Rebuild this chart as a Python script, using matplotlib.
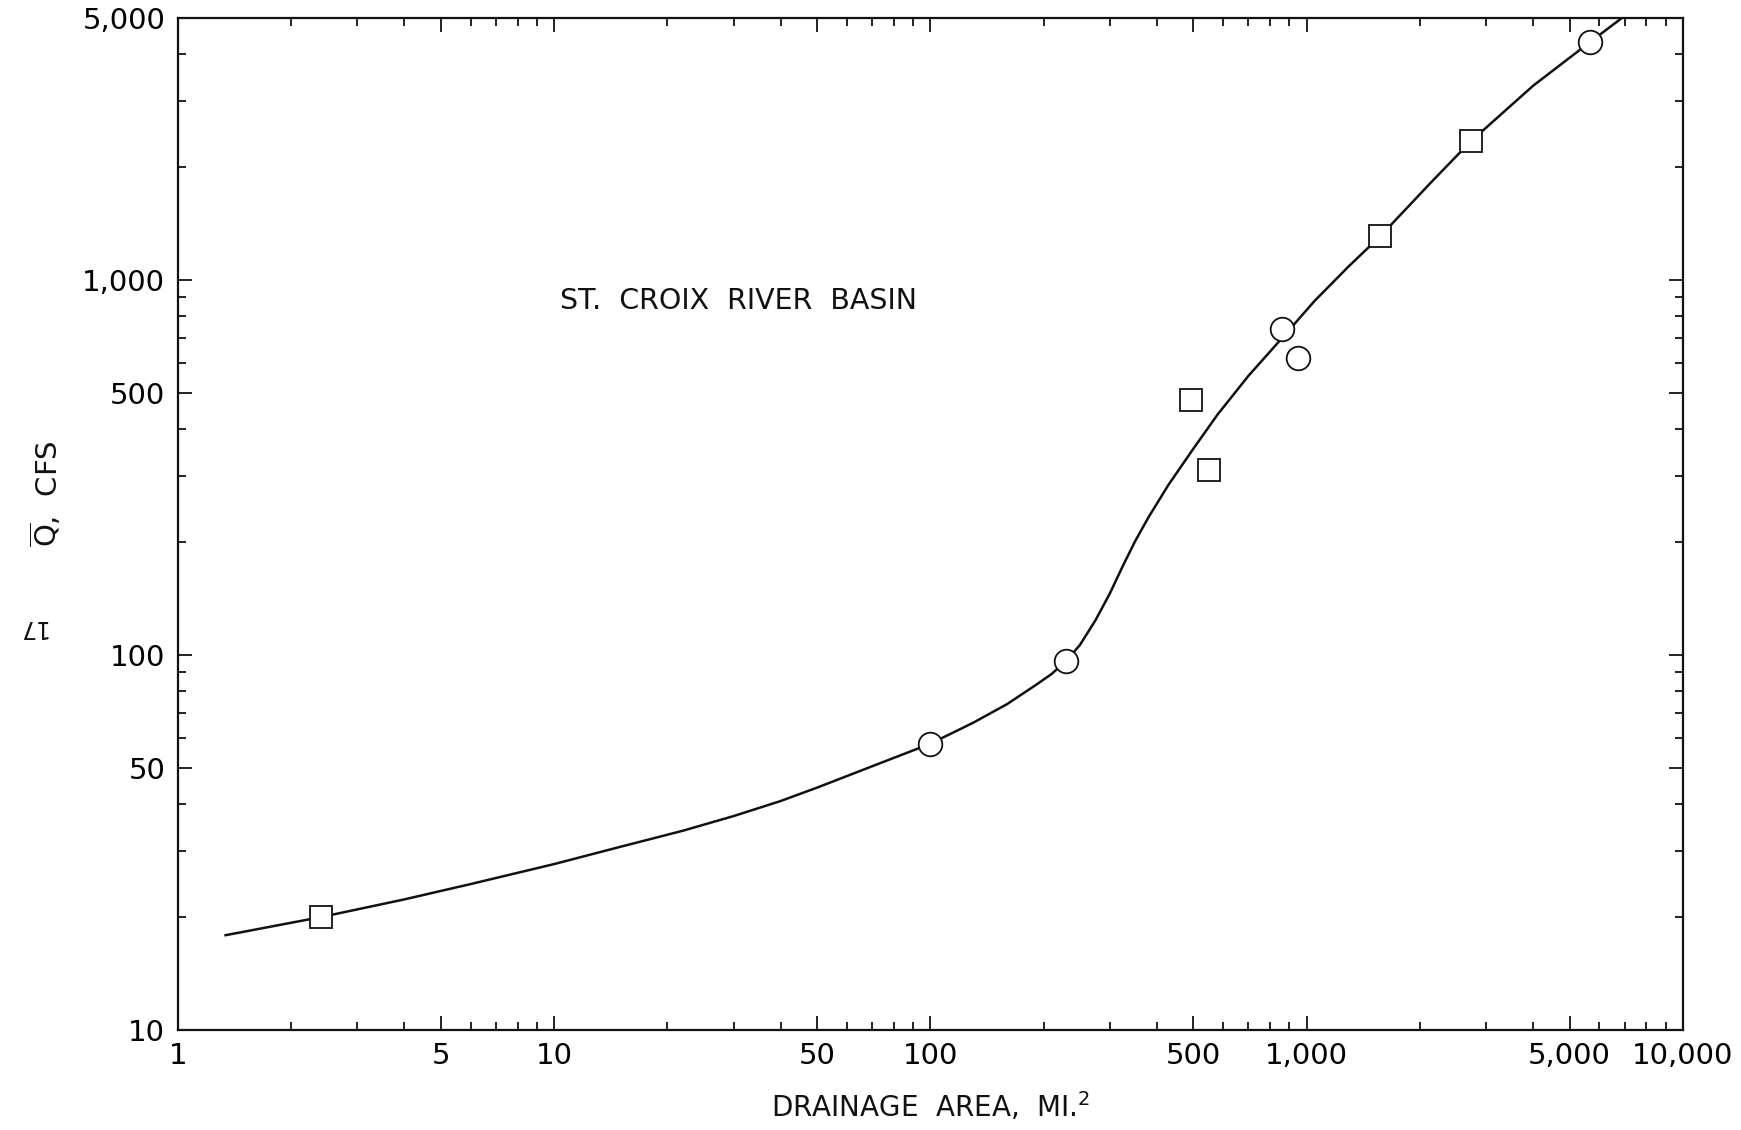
"""Mean annual flood vs drainage area, St. Croix River basin (log-log)."""

import matplotlib
matplotlib.use("Agg")
import matplotlib.pyplot as plt
from matplotlib.ticker import FixedLocator, LogLocator, NullFormatter

# Gaging stations, circles and squares
circle_area = [100, 230, 861, 948, 5654]
circle_q = [58, 96.6, 740, 619, 4305]
square_area = [2.4, 492, 552, 1567, 2733]
square_q = [20.0, 480, 312, 1310, 2344]

# Hand-fitted curve through the stations
curve_area = [1.34, 2.4, 4, 6, 10, 15, 22, 30, 40, 50, 70, 100, 130, 160,
              190, 210, 230, 250, 275, 300, 325, 350, 380, 430, 500, 580,
              700, 860, 1050, 1290, 1570, 2150, 2730, 4000, 5650, 7100]
curve_q = [17.9, 20.0, 22.3, 24.5, 27.7, 30.8, 34.0, 37.2, 40.8, 44.3, 50.5,
           58.0, 66, 74, 83, 89, 96.6, 106.5, 124, 146, 173, 201, 233, 285,
           355, 438, 555, 700, 880, 1085, 1310, 1830, 2344, 3300, 4305, 5120]

x_ticks = [1, 5, 10, 50, 100, 500, 1000, 5000, 10000]
x_labels = ["1", "5", "10", "50", "100", "500", "1,000", "5,000", "10,000"]
y_ticks = [10, 50, 100, 500, 1000, 5000]
y_labels = ["10", "50", "100", "500", "1,000", "5,000"]

plt.rcParams["font.family"] = ["DejaVu Sans"]
ink = "#111111"

fig = plt.figure(figsize=(17.41, 11.30), dpi=100)
ax = fig.add_axes([0.1021, 0.0885, 0.8645, 0.8955])
ax.set_xscale("log")
ax.set_yscale("log")
ax.set_xlim(1, 10000)
ax.set_ylim(10, 5000)

ax.plot(curve_area, curve_q, color=ink, lw=1.8, zorder=2,
        solid_joinstyle="round")
ax.plot(circle_area, circle_q, "o", ms=17, mfc="white", mec=ink, mew=1.3,
        zorder=3)
ax.plot(square_area, square_q, "s", ms=16, mfc="white", mec=ink, mew=1.3,
        zorder=3)

# ticks on all four sides, pointing inward
ax.xaxis.set_major_locator(FixedLocator(x_ticks))
ax.yaxis.set_major_locator(FixedLocator(y_ticks))
ax.xaxis.set_minor_locator(LogLocator(base=10, subs=range(2, 10)))
ax.yaxis.set_minor_locator(LogLocator(base=10, subs=range(2, 10)))
ax.xaxis.set_minor_formatter(NullFormatter())
ax.yaxis.set_minor_formatter(NullFormatter())
ax.set_xticklabels(x_labels)
ax.set_yticklabels(y_labels)
ax.tick_params(which="both", direction="in", top=True, right=True,
               color=ink, width=1.3)
ax.tick_params(which="major", length=10, labelsize=21, pad=9)
ax.tick_params(which="minor", length=5.5)
for sp in ax.spines.values():
    sp.set_linewidth(1.6)
    sp.set_color(ink)

ax.set_xlabel("DRAINAGE  AREA,  MI.$^{\\mathregular{2}}$", fontsize=20,
              labelpad=14, color=ink)
ax.set_ylabel("$\\overline{\\mathregular{Q}}$,  CFS", fontsize=21,
              color=ink)
ax.yaxis.set_label_coords(-0.076, 0.53)

ax.text(10.4, 880, "ST.  CROIX  RIVER  BASIN", fontsize=20.5, color=ink,
        ha="left", va="center")

# page number
fig.text(0.018, 0.445, "17", fontsize=17, rotation=180, color=ink,
         ha="center", va="center")

fig.savefig("out.png", dpi=100, facecolor="white")
